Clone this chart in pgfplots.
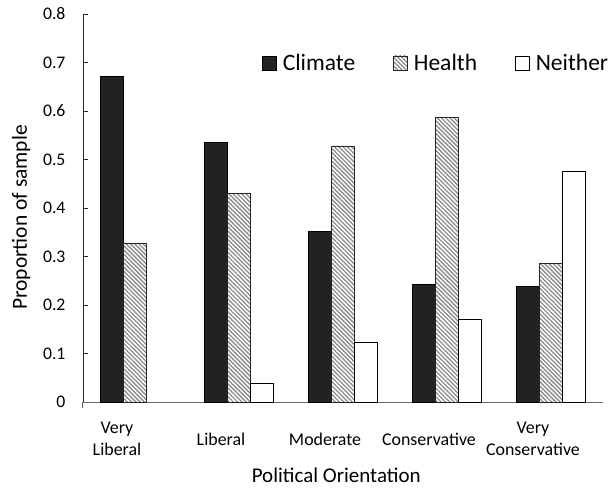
\documentclass[border=0pt]{standalone}
\usepackage{fontspec}
\setmainfont{Carlito}
\usepackage{pgfplots}
\pgfplotsset{compat=1.18}
\usetikzlibrary{patterns.meta}
\definecolor{dark}{HTML}{222222}
\definecolor{hatch}{HTML}{8A8A8A}
\pgfplotsset{mylegend/.style={legend image code/.code={\draw[##1] (0pt,-7pt) rectangle (14pt,7pt);}}}
\begin{document}
\begin{tikzpicture}
\begin{axis}[
  scale only axis, width=520pt, height=388pt,
  xmin=-0.5, xmax=4.5, ymin=0, ymax=0.8,
  ybar, bar width=0.221,
  axis x line*=bottom, axis y line*=left,
  axis line style={-, black!85, line width=0.8pt},
  x axis line style={black!60},
  ytick={0,0.1,0.2,0.3,0.4,0.5,0.6,0.7,0.8},
  xtick={0,1,2,3,4},
  xticklabels={{Very\\Liberal},Liberal,Moderate,Conservative,{Very\\Conservative}},
  x tick style={draw=none},
  y tick style={black!85, line width=0.8pt},
  tick align=inside, major tick length=5pt,
  extra x ticks={-0.5}, extra x tick labels={},
  extra x tick style={x tick style={draw=black!60, line width=1pt}, tick align=outside, major tick length=6pt},
  /pgf/number format/assume math mode=true,
  yticklabel style={font=\fontsize{17.7}{21}\selectfont, xshift=-14pt, /pgf/number format/fixed, /pgf/number format/precision=1},
  xticklabel style={font=\fontsize{17.9}{22}\selectfont, align=center, anchor=center, yshift=-37pt, xshift=-18pt},
  every axis y label/.style={at={(axis description cs:-0.119,0.4755)}, rotate=90, anchor=center, font=\fontsize{21.5}{25}\selectfont},
  every axis x label/.style={at={(axis description cs:0.487,-0.19)}, anchor=center, font=\fontsize{21}{25}\selectfont},
  ylabel={Proportion of sample},
  xlabel={Political Orientation},
  legend columns=3,
  legend style={at={(rel axis cs:0.344,0.874)}, anchor=west, draw=none, fill=none, inner sep=0pt,
    font=\fontsize{23.5}{28}\selectfont, nodes={inner xsep=6pt},
    /tikz/every even column/.append style={column sep=32pt}},
  clip=false,
]
\addplot[fill=dark, draw=black, line width=0.7pt, bar shift=-0.221, mylegend]
  coordinates {(0,0.672) (1,0.536) (2,0.351) (3,0.243) (4,0.239)};
\addlegendentry{Climate}
\addplot[pattern={Lines[angle=-45,distance=3pt,line width=1.3pt]}, pattern color=hatch, draw=black!85, line width=0.7pt, bar shift=0, mylegend]
  coordinates {(0,0.328) (1,0.430) (2,0.528) (3,0.587) (4,0.286)};
\addlegendentry{Health}
\addplot[fill=white, draw=black, line width=0.7pt, bar shift=0.221, mylegend]
  coordinates {(1,0.038) (2,0.124) (3,0.171) (4,0.476)};
\addlegendentry{Neither}
\coordinate (bbsw) at (axis description cs:-0.1596,-0.2294);
\coordinate (bbne) at (axis description cs:1.0212,1.0361);
\end{axis}
\pgfresetboundingbox
\path[use as bounding box] (bbsw) rectangle (bbne);
\end{tikzpicture}
\end{document}
